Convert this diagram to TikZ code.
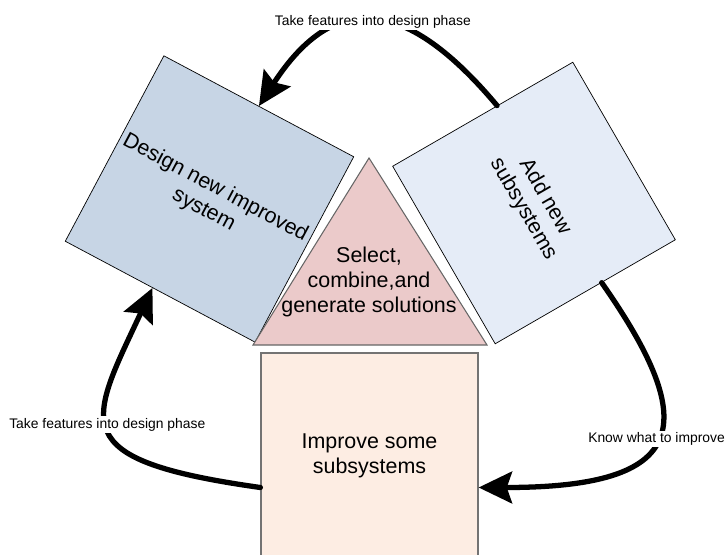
\documentclass[tikz,border=0pt]{standalone}
\usepackage{fontspec}
\setmainfont{Liberation Sans}
\usetikzlibrary{arrows.meta,positioning,calc}
\definecolor{cdesign}{HTML}{C7D5E5}
\definecolor{cadd}{HTML}{E5ECF7}
\definecolor{csel}{HTML}{EBCACA}
\definecolor{cimp}{HTML}{FDEDE3}

\begin{document}
\begin{tikzpicture}[
      box/.style={draw, line width=0.4pt, align=center, inner sep=0pt, font=\fontsize{12.2}{14.2}\selectfont},
      lbl/.style={fill=white, inner sep=1pt, font=\fontsize{7.9}{9}\selectfont},
      arr/.style={->, line width=3pt, line cap=round, >={Stealth[length=19pt, width=18pt, inset=3pt]}}
    ]
    \useasboundingbox (0,0) rectangle (14.56,11.08);
    \clip (0,0) rectangle (14.56,11.08);
    \node[box, fill=cdesign, rotate=-28, minimum width=4.3cm, minimum height=4.2cm] (design) at (4.19,7.1) {Design new improved\\system};
    \node[box, fill=cadd, rotate=-60, minimum width=4.1cm, minimum height=4.16cm] (addnew) at (10.68,7.02) {Add new\\subsystems};
    \node[box, fill=cimp, draw=black!55, line width=0.7pt, minimum width=4.34cm, minimum height=4.1cm] (improve) at (7.39,1.97) {Improve some\\subsystems};
    % triangle in the middle
    \coordinate (apex) at (7.38,7.92);
    \coordinate (bl) at (5.06,4.18);
    \coordinate (br) at (9.74,4.18);
    \draw[fill=csel, draw=black!60, line width=0.6pt] (apex) -- (br) -- (bl) -- cycle;
    \node[box, draw=none] (select) at (7.38,5.44) {Select,\\combine,and\\generate solutions};
    % loops
    \draw[arr] ($(addnew.south west)!0.58!(addnew.north west)$) .. controls +(130:2.8) and +(57:2.8) .. (design.north)
      node[lbl, pos=0.5] (l1) {Take features into design phase};
    \draw[arr] ([yshift=-0.64cm]improve.west) .. controls +(172:4) and +(245:3) .. ($(design.south west)!0.46!(design.south east)$)
      node[lbl, pos=0.52] (l2) {Take features into design phase};
    \draw[arr] ($(addnew.south east)!0.59!(addnew.north east)$) .. controls +(-55:3.5) and +(0:4.2) .. ([yshift=-0.64cm]improve.east)
      node[lbl, pos=0.5] (l3) {Know what to improve};
  \end{tikzpicture}
\end{document}
